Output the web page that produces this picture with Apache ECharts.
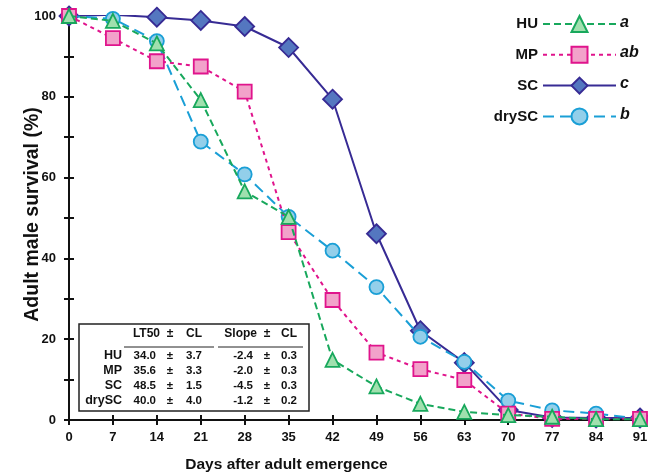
<!DOCTYPE html>
<html><head><meta charset="utf-8">
<script src="https://cdn.jsdelivr.net/npm/echarts@6/dist/echarts.min.js"></script>
<style>html,body{margin:0;padding:0;background:#fff}#c{width:648px;height:475px}</style>
</head><body><div id="c"></div>
<script>
const days = [0,7,14,21,28,35,42,49,56,63,70,77,84,91];
const HU    = [100,98.8,93.2,79.2,56.6,50.3,14.9,8.3,4.0,2.0,1.2,0.8,0.2,0.2];
const MP    = [100,94.5,88.8,87.5,81.3,46.5,29.7,16.7,12.6,9.9,1.6,0.3,0.3,0.3];
const SC    = [100,100.3,99.7,98.9,97.4,92.2,79.4,46.1,22.1,14.2,2.5,0.6,0.5,0.5];
const drySC = [100,99.3,93.8,68.9,60.8,50.3,41.9,32.9,20.6,14.4,4.8,2.4,1.6,0.3];
const seriesNames = ['HU','MP','SC','drySC'];
const groupLetters = ['a','ab','c','b'];
const tableHeader = [['LT50','±','CL'],['Slope','±','CL']];
const lt50 = [[34.0,3.7],[35.6,3.3],[48.5,1.5],[40.0,4.0]];
const slope = [[-2.4,0.3],[-2.0,0.3],[-4.5,0.3],[-1.2,0.2]];

const FONT = 'Liberation Sans, Arial, sans-serif';
const chart = echarts.init(document.getElementById('c'));
const pairs = arr => days.map((d,i)=>[d,arr[i]]);

const styles = {
  HU:    {line:'#18a85c', fill:'#a0e0ae', symbol:'triangle', size:14, dash:[7,4]},
  MP:    {line:'#e0148c', fill:'#f2a2ca', symbol:'rect', size:14, dash:[4,4]},
  SC:    {line:'#372b94', fill:'#5477c0', symbol:'diamond', size:19, dash:'solid'},
  drySC: {line:'#1a9fd6', fill:'#93cfea', symbol:'circle', size:14, dash:[11,6]}
};
const dataMap = {HU, MP, SC, drySC};
const zOrder = {SC:1, drySC:2, MP:3, HU:4};

const series = seriesNames.map(n => ({
  name:n, type:'line', data:pairs(dataMap[n]), z: zOrder[n]+2,
  symbol:styles[n].symbol, symbolSize:styles[n].size,
  lineStyle:{color:styles[n].line, width:2, type:styles[n].dash},
  itemStyle:{color:styles[n].fill, borderColor:styles[n].line, borderWidth:1.8},
  emphasis:{disabled:true}
}));

// table graphic
const g = [];
const T = (x,y,text,font,align) => g.push({type:'text', x, y, z:11,
  style:{text, font, fill:'#111', align:align||'right', verticalAlign:'middle'}});
g.push({type:'rect', shape:{x:79, y:324, width:230, height:87}, style:{fill:'#fff', stroke:'#222', lineWidth:1.5}, z:10});
const hf = 'bold 12px '+FONT, vf = 'bold 11.5px '+FONT;
T(160,334,tableHeader[0][0],hf); T(170,334,tableHeader[0][1],hf,'center'); T(202,334,tableHeader[0][2],hf);
T(257,334,tableHeader[1][0],hf); T(267,334,tableHeader[1][1],hf,'center'); T(297,334,tableHeader[1][2],hf);
g.push({type:'line', shape:{x1:124,y1:347,x2:214,y2:347}, style:{stroke:'#222', lineWidth:1}, z:11});
g.push({type:'line', shape:{x1:218,y1:347,x2:303,y2:347}, style:{stroke:'#222', lineWidth:1}, z:11});
const rowY = [356,371,386,401];
seriesNames.forEach((n,i)=>{
  T(122,rowY[i],n,'bold 12.5px '+FONT);
  T(156,rowY[i],lt50[i][0].toFixed(1),vf);
  T(170,rowY[i],'±',vf,'center');
  T(202,rowY[i],lt50[i][1].toFixed(1),vf);
  T(253,rowY[i],slope[i][0].toFixed(1),vf);
  T(267,rowY[i],'±',vf,'center');
  T(297,rowY[i],slope[i][1].toFixed(1),vf);
});
// legend letters
const legY = [23,53,84,115];
groupLetters.forEach((l,i)=>{
  g.push({type:'text', x:620, y:legY[i], style:{text:l, font:'italic bold 16px '+FONT, fill:'#111', align:'left', verticalAlign:'middle'}, z:11});
});

const tickLen = 5;
const option = {
  animation:false,
  grid:{left:69, right:8, top:16, bottom:55, outerBoundsMode:'none', containLabel:false},
  legend:{
    data:seriesNames, orient:'vertical', right:26, top:10, align:'right',
    itemWidth:73, itemHeight:20, itemGap:12.8,
    textStyle:{fontFamily:FONT, fontWeight:'bold', fontSize:15, color:'#111'},
    selectedMode:false
  },
  xAxis:[{
    type:'value', min:0, max:91, interval:7,
    name:'Days after adult emergence', nameLocation:'middle', nameGap:37, nameMoveOverlap:false,
    nameTextStyle:{fontFamily:FONT, fontWeight:'bold', fontSize:15.5, color:'#111', padding:[0,136,0,0]},
    axisLine:{lineStyle:{color:'#111', width:2}},
    axisTick:{length:tickLen, lineStyle:{color:'#111', width:2}},
    axisLabel:{fontFamily:FONT, fontWeight:'bold', fontSize:13, color:'#111', margin:11},
    splitLine:{show:false}
  },{
    type:'value', min:0, max:91, interval:7, position:'bottom',
    axisLine:{show:false}, axisTick:{inside:true, length:tickLen, lineStyle:{color:'#111', width:2}},
    axisLabel:{show:false}, splitLine:{show:false}
  }],
  yAxis:[{
    type:'value', min:0, max:100, interval:10,
    name:'Adult male survival (%)', nameLocation:'middle', nameGap:26, nameMoveOverlap:false,
    nameTextStyle:{fontFamily:FONT, fontWeight:'bold', fontSize:19.5, color:'#111', padding:[0,0,0,7]},
    axisLine:{show:true, lineStyle:{color:'#111', width:2}},
    axisTick:{show:true, length:tickLen, lineStyle:{color:'#111', width:2}},
    axisLabel:{fontFamily:FONT, fontWeight:'bold', fontSize:13, color:'#111', margin:13,
      formatter:v => (v%20===0 ? String(v) : '')},
    splitLine:{show:false}
  },{
    type:'value', min:0, max:100, interval:10, position:'left',
    axisLine:{show:false}, axisTick:{show:true, inside:true, length:tickLen, lineStyle:{color:'#111', width:2}},
    axisLabel:{show:false}, splitLine:{show:false}
  }],
  series: series,
  graphic: g
};
chart.setOption(option);
</script></body></html>
